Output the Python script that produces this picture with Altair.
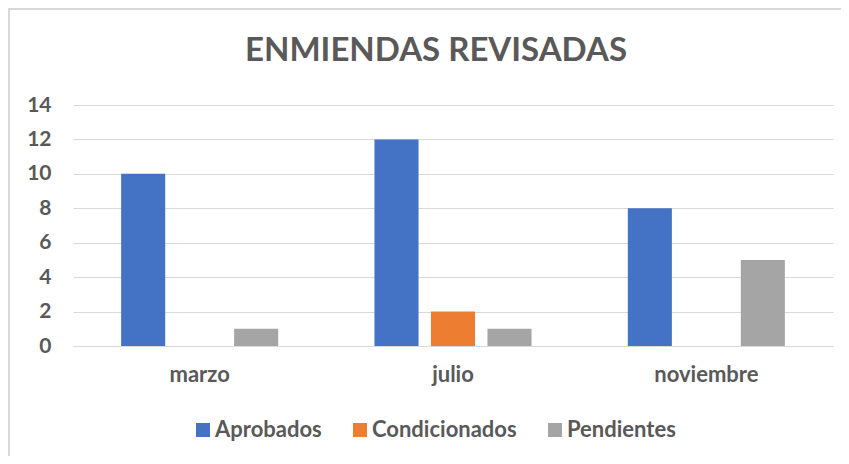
import altair as alt
import pandas as pd

meses = ["marzo", "julio", "noviembre"]
series = ["Aprobados", "Condicionados", "Pendientes"]
aprobados = [10, 12, 8]
condicionados = [0, 2, 0]
pendientes = [1, 1, 5]
colores = ["#4472C4", "#ED7D31", "#A5A5A5"]
y_ticks = [0, 2, 4, 6, 8, 10, 12, 14]
titulo = "ENMIENDAS REVISADAS"

rows = []
for i, m in enumerate(meses):
    for s, vals in zip(series, [aprobados, condicionados, pendientes]):
        rows.append({"mes": m, "serie": s, "valor": vals[i]})
df = pd.DataFrame(rows)

FONT = "Lato"
GRAY = "#595959"
GRID = "#D9D9D9"

bars = alt.Chart(df).mark_bar().encode(
    x=alt.X("mes:N", sort=meses, title=None,
            scale=alt.Scale(paddingInner=0.38, paddingOuter=0.19),
            axis=alt.Axis(labelAngle=0, labelFontSize=22, labelFont=FONT,
                          labelFontWeight="bold", labelColor=GRAY, ticks=False,
                          domain=True, domainColor=GRID, labelPadding=18, grid=False)),
    xOffset=alt.XOffset("serie:N", sort=series,
                        scale=alt.Scale(paddingInner=0.22, paddingOuter=0)),
    y=alt.Y("valor:Q", title=None, scale=alt.Scale(domain=[0, 14], nice=False),
            axis=alt.Axis(values=y_ticks, labelFontSize=21, labelFont=FONT,
                          labelFontWeight="bold", labelColor=GRAY, ticks=False,
                          domain=False, grid=True, gridColor=GRID, labelPadding=22)),
    color=alt.Color("serie:N", sort=series,
                    scale=alt.Scale(domain=series, range=colores),
                    legend=alt.Legend(title=None, orient="none", direction="horizontal",
                                      legendX=119, legendY=314,
                                      symbolType="square", symbolSize=196,
                                      symbolStrokeWidth=0,
                                      labelFontSize=22, labelFont=FONT,
                                      labelFontWeight="bold", labelColor=GRAY,
                                      labelOffset=1, columnPadding=27)),
)

tdf = pd.DataFrame({"t": [titulo]})
title_mark = alt.Chart(tdf).mark_text(
    font=FONT, fontSize=33, fontWeight="bold", color=GRAY,
    align="center", baseline="middle").encode(
    text="t:N", x=alt.value(363), y=alt.value(-54))

bdf = pd.DataFrame({"k": [0]})
left = alt.Chart(bdf).mark_rule(color=GRID, strokeWidth=2).encode(
    x=alt.value(-64), y=alt.value(-96), y2=alt.value(351))
top = alt.Chart(bdf).mark_rule(color=GRID, strokeWidth=2).encode(
    x=alt.value(-65), x2=alt.value(768), y=alt.value(-96))

chart = alt.layer(bars, title_mark, left, top).properties(
    width=760, height=241,
    background="white",
    autosize=alt.AutoSizeParams(type="none"),
    padding={"left": 65, "top": 97, "right": 8, "bottom": 110},
).configure_view(stroke=None)

chart.save("out.html", embed_options={"renderer": "svg", "actions": False})
